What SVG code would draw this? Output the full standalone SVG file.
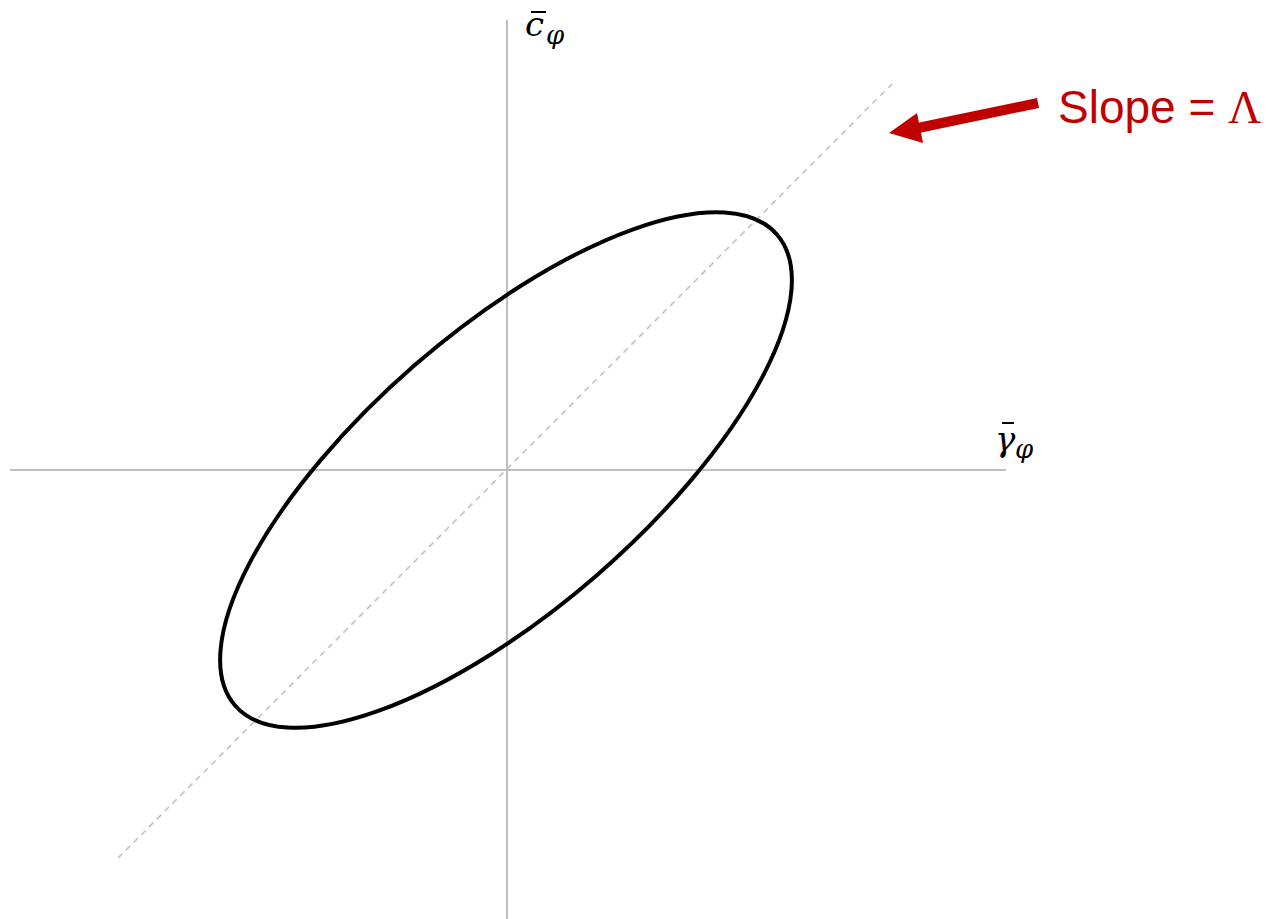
<svg xmlns="http://www.w3.org/2000/svg" width="1274" height="919" viewBox="0 0 1274 919">
<style>
.axis{stroke:#bfbfbf;stroke-width:2;fill:none}
.diag{stroke:#bfbfbf;stroke-width:1.5;stroke-dasharray:6 5;fill:none}
.ell{stroke:#000;stroke-width:4;fill:none}
.lab{font-family:"DejaVu Serif","Liberation Serif",serif;font-style:italic;fill:#000}
.bar{stroke:#000;stroke-width:2}
.red{fill:#c00000}
</style>
<rect width="1274" height="919" fill="#fff"/>
<g id="axes">
<line class="axis" x1="507" y1="20" x2="507" y2="919"/>
<line class="axis" x1="10" y1="470" x2="1006" y2="470"/>
</g>
<g id="slope-line">
<line class="diag" x1="118" y1="858" x2="894" y2="82"/>
</g>
<g id="ellipse">
<ellipse class="ell" cx="506" cy="470" rx="359" ry="139" transform="rotate(-41 506 470)"/>
</g>
<g id="label-c">
<text class="lab" x="525" y="36" font-size="34">c</text>
<line class="bar" x1="531" y1="12" x2="546" y2="12"/>
<text class="lab" x="546" y="44" font-size="26">φ</text>
</g>
<g id="label-gamma">
<text class="lab" x="995" y="451" font-size="34">γ</text>
<line class="bar" x1="1002" y1="423" x2="1014" y2="423"/>
<text class="lab" x="1015" y="458" font-size="26">φ</text>
</g>
<g id="connectors">
<line x1="1038" y1="103" x2="918" y2="128" stroke="#c00000" stroke-width="10"/>
<polygon class="red" points="889,133 917,113 923,143"/>
</g>
<g id="slope-label">
<text x="1058" y="123" font-family="Liberation Sans, Arial, sans-serif" font-size="46" class="red">Slope = <tspan font-family="Liberation Serif, serif">Λ</tspan></text>
</g>
</svg>
